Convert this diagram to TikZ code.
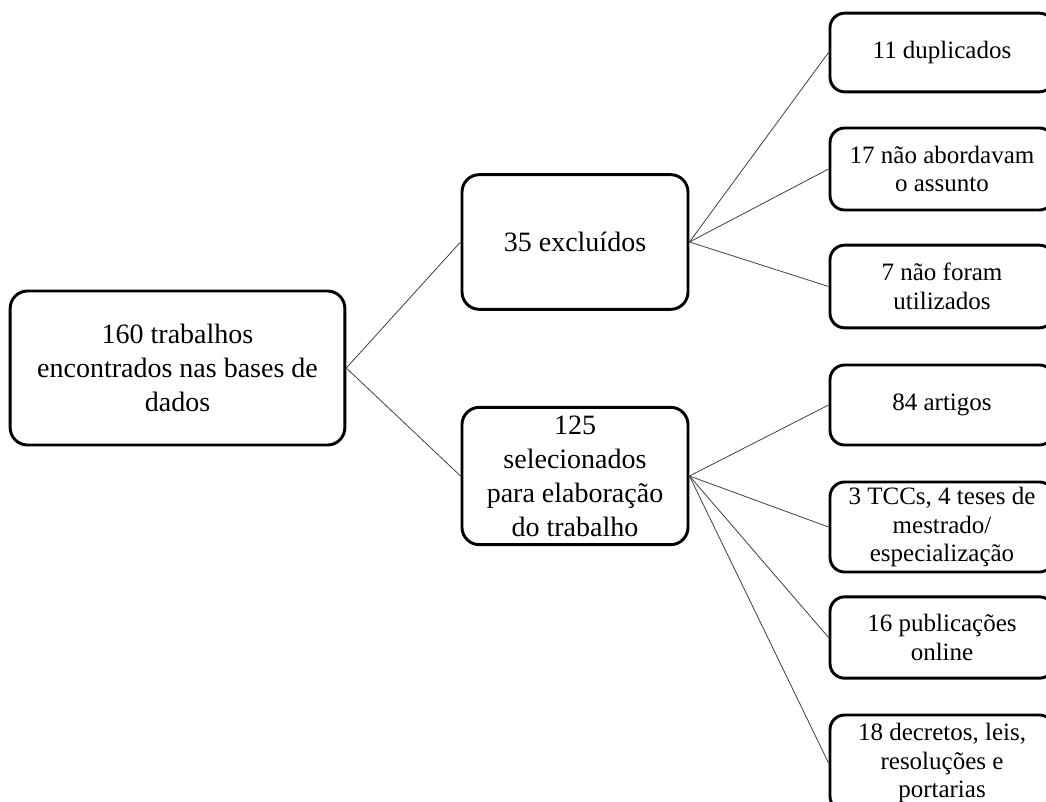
\documentclass[tikz,border=0pt]{standalone}
\usepackage{fontspec}
\setmainfont{Liberation Serif}
\usepackage{tikz}

\begin{document}
\begin{tikzpicture}[x=0.75pt,y=-0.75pt,
    bigbox/.style={draw,line width=2.2pt,rounded corners=13pt,fill=white,
        align=center,inner sep=0pt,font=\fontsize{21}{25.5}\selectfont},
    leafbox/.style={draw,line width=2.2pt,rounded corners=11pt,fill=white,
        align=center,inner sep=0pt,minimum width=168pt,
        font=\fontsize{18.75}{21.6}\selectfont},
    link/.style={draw=black!75,line width=0.6pt}]
                \useasboundingbox (0,0) rectangle (1046,802);
                \clip (0,0) rectangle (1046,802);

                % root and the two branches
                \node[bigbox,minimum width=251pt,minimum height=115.5pt] (root) at (177.5,368)
                    {160 trabalhos\\encontrados nas bases de\\dados};
                \node[bigbox,minimum width=169.5pt,minimum height=101pt] (excl) at (575,242)
                    {35 excluídos};
                \node[bigbox,minimum width=169.5pt,minimum height=103pt] (sel) at (575,476)
                    {125\\selecionados\\para elaboração\\do trabalho};

                % leaves
                \node[leafbox,minimum height=59pt] (dup) at (942,52.5) {11 duplicados};
                \node[leafbox,minimum height=61.5pt] (abord) at (942,169) {17 não abordavam\\o assunto};
                \node[leafbox,minimum height=62pt] (util) at (942,286.5) {7 não foram\\utilizados};
                \node[leafbox,minimum height=60pt] (art) at (942,405) {84 artigos};
                \node[leafbox,minimum height=67.5pt] (tcc) at (942,527) {3 TCCs, 4 teses de\\mestrado/\\especialização};
                \node[leafbox,minimum height=61pt] (pub) at (942,637.5) {16 publicações\\online};
                \node[leafbox,minimum height=72pt] (dec) at (942,763) {18 decretos, leis,\\resoluções e\\portarias};

                \draw[link] (root.east) -- (excl.west);
                \draw[link] (root.east) -- (sel.west);
                \foreach \leaf in {dup,abord,util}
                    \draw[link] (excl.east) -- (\leaf.west);
                \foreach \leaf in {art,tcc,pub,dec}
                    \draw[link] (sel.east) -- (\leaf.west);
            \end{tikzpicture}
\end{document}
